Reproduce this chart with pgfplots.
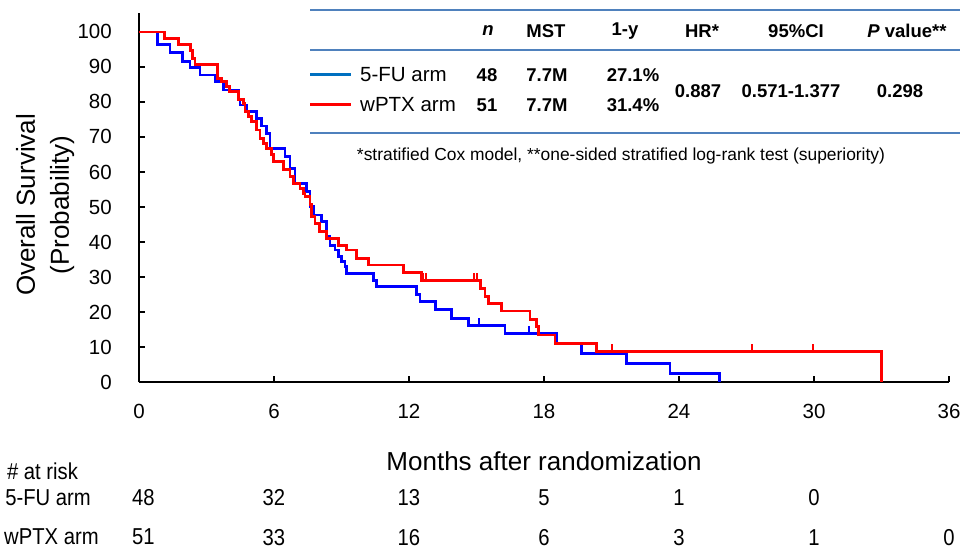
\documentclass[border=0pt]{standalone}
\usepackage{fontspec}
\setmainfont{Liberation Sans}
\newfontfamily\narrowfont{Liberation Sans}[FakeStretch=0.88]
\usepackage{pgfplots}
\pgfplotsset{compat=1.18}
\definecolor{kmblue}{RGB}{0,0,255}
\definecolor{kmred}{RGB}{255,0,0}
\definecolor{legblue}{RGB}{0,112,192}
\definecolor{rulecol}{RGB}{79,129,189}
\pgfdeclareplotmark{cens}{\pgfpathmoveto{\pgfpoint{0pt}{0pt}}\pgfpathlineto{\pgfpoint{0pt}{7.5pt}}\pgfusepathqstroke}
\begin{document}
\begin{tikzpicture}
\path[use as bounding box] (-139pt,-167pt) rectangle (839pt,382pt);
\begin{axis}[
  at={(0pt,0pt)}, anchor=south west,
  scale only axis, width=810pt, height=369pt,
  xmin=0, xmax=36, ymin=0, ymax=105.4,
  axis lines*=left,
  axis line style={line width=1.7pt, black},
  xtick={0,6,...,36}, ytick={0,10,...,100},
  tick align=inside, major tick length=6pt,
  tick style={line width=1.2pt, black},
  /pgf/number format/assume math mode=true,
  xticklabel style={font=\fontsize{20.5}{24}\selectfont, inner sep=0pt, yshift=-22pt},
  yticklabel style={font=\fontsize{20.5}{24}\selectfont, inner sep=0pt, xshift=-27pt},
  xlabel={Months after randomization},
  xlabel style={font=\fontsize{26}{30}\selectfont, at={(axis description cs:0.5,-0.214)}, anchor=center},
  ylabel={Overall Survival\\(Probability)},
  ylabel style={font=\fontsize{26}{34}\selectfont, align=center, at={(axis description cs:-0.116,0.48)}, anchor=center},
  clip=false,
]
% 5-FU arm
\addplot[kmblue, line width=2.8pt, const plot, mark=none] coordinates {
(0,100) (0.83,96.5) (1.38,94.1) (1.93,91.5) (2.27,89.8) (2.71,87.7) (3.38,85.8)
(3.75,83.4) (4.41,80.6) (4.49,79.1) (4.79,77.2) (5.23,75.3) (5.45,73.1) (5.67,71.0)
(5.82,66.8) (6.49,64.5) (6.71,61.0) (6.93,56.8) (7.45,54.4) (7.60,50.1) (7.78,47.7)
(8.12,45.8) (8.34,41.5) (8.49,39.1) (8.71,37.7) (8.86,35.8) (9.01,34.4) (9.16,32.9)
(9.23,31.0) (10.41,29.1) (10.56,27.2) (12.34,24.9) (12.49,22.9) (13.16,20.6)
(13.90,18.2) (14.64,16.1) (16.27,13.9) (18.56,11.1) (19.68,8.2) (21.65,5.3)
(23.60,2.5) (25.80,0)
};
% wPTX arm
\addplot[kmred, line width=2.8pt, const plot, mark=none] coordinates {
(0,100) (1.12,98.2) (1.75,96.3) (2.30,94.7) (2.39,92.5) (2.49,90.6) (3.48,86.8)
(3.67,85.8) (3.90,84.4) (4.01,82.9) (4.41,80.6) (4.64,79.6) (4.71,77.2) (4.86,75.8)
(5.01,74.4) (5.23,72.0) (5.38,69.6) (5.53,68.2) (5.67,66.8) (5.90,64.9) (5.97,62.9)
(6.41,60.6) (6.71,58.7) (6.86,56.8) (7.16,55.3) (7.30,53.9) (7.38,52.9) (7.60,50.6)
(7.67,47.2) (7.82,45.3) (8.04,43.0) (8.34,41.0) (8.86,39.1) (9.23,37.7) (9.67,35.3)
(10.19,33.4) (11.75,31.2) (12.56,29.1) (15.16,26.8) (15.38,24.4) (15.53,22.5)
(16.12,20.3) (17.38,17.9) (17.68,15.8) (17.75,13.4) (18.49,11.1) (20.34,8.7)
(33.0,8.7) (33.0,0)
};
% censor marks
\addplot[kmblue, only marks, mark=cens, mark options={line width=2pt}] coordinates {
(15.11,16.1) (17.33,13.9)};
\addplot[kmred, only marks, mark=cens, mark options={line width=2pt}] coordinates {
(12.64,29.1) (12.76,29.1) (14.90,29.1) (15.04,29.1) (21.04,8.7) (27.23,8.7) (29.97,8.7)};
% number at risk
\begin{scope}[every node/.style={font=\narrowfont\fontsize{23}{26}\selectfont, inner sep=0pt}]
\node[anchor=west] at (axis cs:-5.87,-25.4) {\# at risk};
\node[anchor=west] at (axis cs:-5.95,-33.1) {5-FU arm};
\node[anchor=west] at (axis cs:-6.0,-44.3) {wPTX arm};
\node at (axis cs:0.2,-33.1) {48};
\node at (axis cs:6,-33.1) {32};
\node at (axis cs:12,-33.1) {13};
\node at (axis cs:18,-33.1) {5};
\node at (axis cs:24,-33.1) {1};
\node at (axis cs:30,-33.1) {0};
\node at (axis cs:0.2,-44.3) {51};
\node at (axis cs:6,-44.3) {33};
\node at (axis cs:12,-44.3) {16};
\node at (axis cs:18,-44.3) {6};
\node at (axis cs:24,-44.3) {3};
\node at (axis cs:30,-44.3) {1};
\node at (axis cs:36,-44.3) {0};
\end{scope}
\end{axis}
% summary table
\draw[rulecol, line width=1.2pt] (171pt,372pt) -- (821pt,372pt);
\draw[rulecol, line width=1.2pt] (171pt,332pt) -- (821pt,332pt);
\draw[rulecol, line width=1.2pt] (171pt,249pt) -- (821pt,249pt);
\begin{scope}[every node/.style={font=\fontsize{18.5}{22}\selectfont\bfseries, inner sep=0pt}]
\node at (349pt,351pt) {\itshape n};
\node at (407pt,351pt) {MST};
\node at (486pt,351pt) {1-y};
\node at (563pt,351pt) {HR*};
\node at (657pt,351pt) {95\%CI};
\node at (768pt,351pt) {{\itshape P} value**};
\node at (348pt,307pt) {48};
\node at (408pt,307pt) {7.7M};
\node at (494pt,307pt) {27.1\%};
\node at (348pt,277pt) {51};
\node at (408pt,277pt) {7.7M};
\node at (494pt,277pt) {31.4\%};
\node at (559pt,291pt) {0.887};
\node at (652pt,291pt) {0.571-1.377};
\node at (761pt,291pt) {0.298};
\end{scope}
\draw[legblue, line width=3pt] (171pt,307pt) -- (212pt,307pt);
\draw[kmred, line width=3pt] (171pt,277pt) -- (212pt,277pt);
\node[anchor=west, inner sep=0pt, font=\fontsize{20.5}{24}\selectfont] at (221pt,307pt) {5-FU arm};
\node[anchor=west, inner sep=0pt, font=\fontsize{20.5}{24}\selectfont] at (221pt,277pt) {wPTX arm};
\node[inner sep=0pt, font=\fontsize{17.4}{20}\selectfont] at (482pt,226pt) {*stratified Cox model, **one-sided stratified log-rank test (superiority)};
\end{tikzpicture}
\end{document}
